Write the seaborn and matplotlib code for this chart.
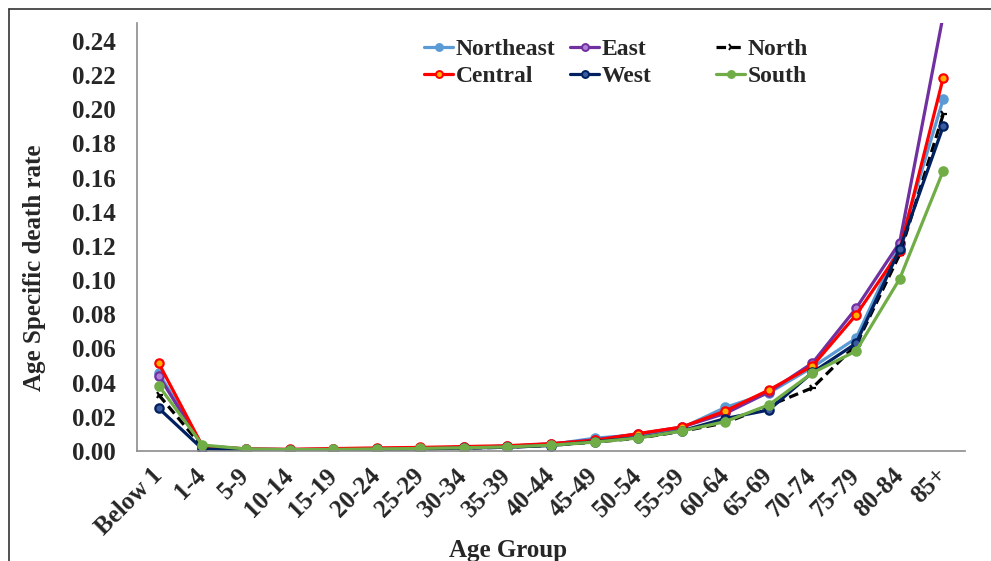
import numpy as np
import pandas as pd
import matplotlib
matplotlib.use("Agg")
import matplotlib.pyplot as plt
from matplotlib.lines import Line2D
import seaborn as sns

# Age groups and age-specific death rates by region
age_groups = ["Below 1", "1-4", "5-9", "10-14", "15-19", "20-24", "25-29", "30-34",
              "35-39", "40-44", "45-49", "50-54", "55-59", "60-64", "65-69",
              "70-74", "75-79", "80-84", "85+"]

northeast = [0.0457, 0.0030, 0.0012, 0.0008, 0.0010, 0.0013, 0.0016, 0.0020, 0.0025, 0.0038,
             0.0075, 0.0095, 0.0135, 0.0255, 0.0340, 0.0490, 0.0660, 0.1210, 0.2060]
east = [0.0440, 0.0028, 0.0011, 0.0008, 0.0011, 0.0014, 0.0017, 0.0022, 0.0028, 0.0042,
        0.0065, 0.0100, 0.0140, 0.0220, 0.0345, 0.0515, 0.0835, 0.1220, 0.2550]
north = [0.0328, 0.0025, 0.0008, 0.0006, 0.0008, 0.0010, 0.0012, 0.0017, 0.0022, 0.0033,
         0.0052, 0.0075, 0.0115, 0.0165, 0.0265, 0.0370, 0.0620, 0.1150, 0.1970]
central = [0.0513, 0.0030, 0.0012, 0.0010, 0.0014, 0.0018, 0.0021, 0.0026, 0.0031, 0.0043,
           0.0062, 0.0102, 0.0140, 0.0234, 0.0357, 0.0498, 0.0796, 0.1170, 0.2184]
west = [0.0250, 0.0012, 0.0006, 0.0005, 0.0007, 0.0009, 0.0012, 0.0017, 0.0022, 0.0032,
        0.0055, 0.0078, 0.0118, 0.0190, 0.0240, 0.0460, 0.0630, 0.1180, 0.1900]
south = [0.0382, 0.0035, 0.0012, 0.0008, 0.0009, 0.0012, 0.0015, 0.0019, 0.0024, 0.0034,
         0.0052, 0.0076, 0.0117, 0.0172, 0.0270, 0.0457, 0.0585, 0.1007, 0.1640]

y_ticks = [0.00, 0.02, 0.04, 0.06, 0.08, 0.10, 0.12, 0.14, 0.16, 0.18, 0.20, 0.22, 0.24]

series = [
    ("Northeast", northeast, dict(color="#5B9BD5", mfc="#5B9BD5", ls="-", marker="o")),
    ("East", east, dict(color="#7030A0", mfc="#B07FD6", ls="-", marker="o")),
    ("North", north, dict(color="#000000", mfc="#000000", ls=(0, (3, 1.6)), marker="4")),
    ("Central", central, dict(color="#FF0000", mfc="#FFB000", ls="-", marker="o")),
    ("West", west, dict(color="#002060", mfc="#3A5BA0", ls="-", marker="o")),
    ("South", south, dict(color="#70AD47", mfc="#70AD47", ls="-", marker="o")),
]

sns.set_theme(style="white")
plt.rcParams["font.family"] = ["Liberation Serif", "DejaVu Serif"]
plt.rcParams["font.weight"] = "bold"

fig = plt.figure(figsize=(9.91, 5.61), dpi=100)
ax = fig.add_axes([137 / 991, 110 / 561, 828 / 991, 428 / 561])

x = np.arange(len(age_groups))
handles = {}
for name, vals, st in series:
    sns.lineplot(x=x, y=vals, ax=ax, color=st["color"], linewidth=2.3,
                 linestyle=st["ls"], marker=st["marker"], markersize=6,
                 markerfacecolor=st["mfc"], markeredgecolor=st["color"],
                 markeredgewidth=1.6, label=None, legend=False)
    handles[name] = Line2D([], [], color=st["color"], linewidth=2.3,
                           linestyle=st["ls"], marker=st["marker"], markersize=5,
                           markerfacecolor=st["mfc"], markeredgecolor=st["color"],
                           markeredgewidth=1.4)

ax.set_xlim(-0.5, len(age_groups) - 0.5)
ax.set_ylim(0, 0.2505)
ax.set_yticks(y_ticks)
ax.set_yticklabels([f"{v:.2f}" for v in y_ticks])
ax.set_xticks(x)
ax.set_xticklabels(age_groups, rotation=45, ha="right", va="center",
                   rotation_mode="anchor")

ax.tick_params(axis="y", length=0, pad=15, labelsize=18)
ax.tick_params(axis="x", length=0, pad=15, labelsize=18)
for lab in ax.get_xticklabels() + ax.get_yticklabels():
    lab.set_fontweight("bold")

for side in ("top", "right"):
    ax.spines[side].set_visible(False)
for side in ("left", "bottom"):
    ax.spines[side].set_color("#8C8C8C")
    ax.spines[side].set_linewidth(1.2)

ax.set_xlabel("Age Group", fontsize=18, fontweight="bold")
ax.set_ylabel("Age Specific death rate", fontsize=18, fontweight="bold")
ax.xaxis.set_label_coords(0.448, -0.205)
ax.yaxis.set_label_coords(-0.110, 0.428)

# Legend laid out as three evenly spaced columns
columns = [("Northeast", "Central"), ("East", "West"), ("North", "South")]
col_x = [412, 558, 704]
for cx, names in zip(col_x, columns):
    fig.legend([handles[n] for n in names], list(names),
               loc="upper left", bbox_to_anchor=(cx / 991, 1 - 27 / 561),
               frameon=False, handlelength=1.25,
               handletextpad=0.1, labelspacing=0.22, borderpad=0,
               prop={"weight": "bold", "size": 17})

# Outer frame lines of the figure
fig.add_artist(Line2D([9 / 991, 9 / 991], [0, 1 - 9 / 561], transform=fig.transFigure,
                      color="#333333", linewidth=1.2))
fig.add_artist(Line2D([9 / 991, 1], [1 - 9 / 561, 1 - 9 / 561], transform=fig.transFigure,
                      color="#333333", linewidth=1.2))

fig.savefig("out.png", dpi=100, facecolor="white")
